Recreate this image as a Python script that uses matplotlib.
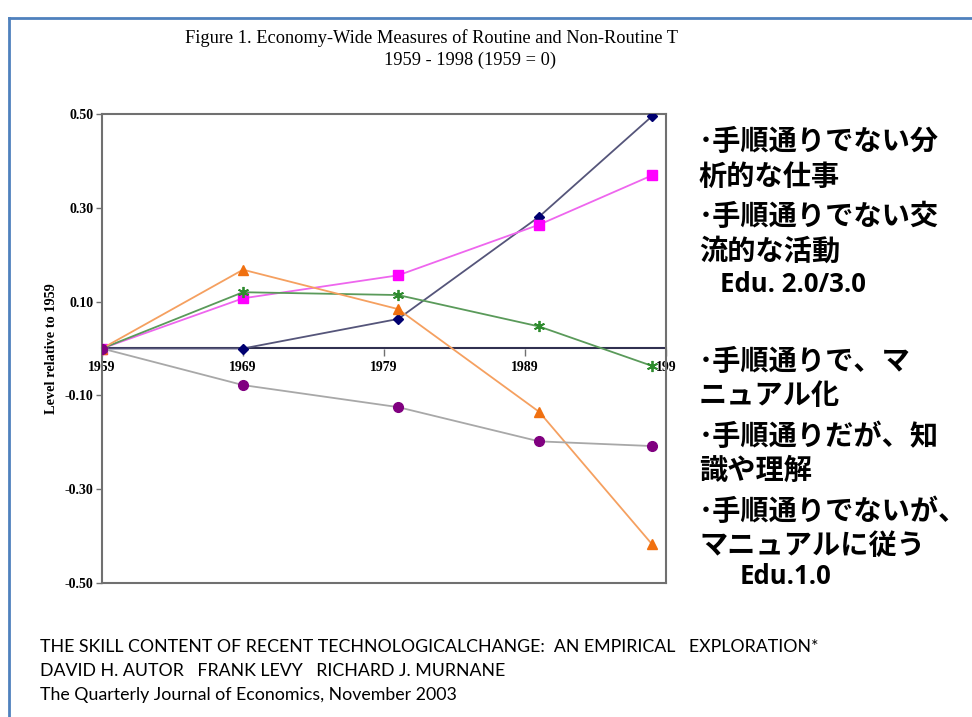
import matplotlib.pyplot as plt
from matplotlib.lines import Line2D

# data
years = [1959, 1969, 1980, 1990, 1998]
nonroutine_analytic = [0.0, 0.0, 0.063, 0.281, 0.495]
nonroutine_interactive = [0.0, 0.107, 0.156, 0.264, 0.369]
routine_cognitive = [0.0, 0.120, 0.114, 0.047, -0.037]
routine_manual = [0.0, 0.168, 0.084, -0.135, -0.417]
nonroutine_manual = [0.0, -0.078, -0.125, -0.198, -0.208]

xtick_vals = [1959, 1969, 1979, 1989, 1999]
xtick_labels = ['1959', '1969', '1979', '1989', '199']
ytick_vals = [0.50, 0.30, 0.10, -0.10, -0.30, -0.50]

upper_notes = ['･手順通りでない分', '析的な仕事', '･手順通りでない交', '流的な活動']
upper_y = [142, 177, 217, 252]
lower_notes = ['･手順通りで、マ', 'ニュアル化', '･手順通りだが、知', '識や理解',
               '･手順通りでないが、', 'マニュアルに従う']
lower_y = [362, 396, 437, 471, 512, 546]

source_lines = ['THE SKILL CONTENT OF RECENT TECHNOLOGICALCHANGE:  AN EMPIRICAL   EXPLORATION*',
                'DAVID H. AUTOR   FRANK LEVY   RICHARD J. MURNANE',
                'The Quarterly Journal of Economics, November 2003']

W, H = 972, 717
fig = plt.figure(figsize=(W / 100, H / 100), dpi=100)

def fx(px):
    return px / W

def fy(py):
    return 1 - py / H

serif = 'Liberation Serif'

ax = fig.add_axes([fx(102), fy(583), fx(666) - fx(102), fy(114) - fy(583)])
ax.plot(years, nonroutine_analytic, color='#55557a', lw=1.3, marker='D', ms=5,
        mfc='#000070', mec='#000070', zorder=3)
ax.plot(years, nonroutine_interactive, color='#ee66ee', lw=1.3, marker='s', ms=7,
        mfc='#ff00ff', mec='#ff00ff', zorder=3)
ax.plot(years, routine_cognitive, color='#5a9a5a', lw=1.3, marker=(6, 2, 0), ms=8,
        mec='#2e8b2e', mew=1.3, zorder=3)
ax.plot(years, routine_manual, color='#f5a060', lw=1.3, marker='^', ms=7,
        mfc='#f07010', mec='#f07010', zorder=3)
ax.plot(years, nonroutine_manual, color='#a8a8a8', lw=1.3, marker='o', ms=7,
        mfc='#800080', mec='#800080', zorder=4)

ax.set_xlim(1959, 1999)
ax.set_ylim(-0.5, 0.5)
for s in ax.spines.values():
    s.set_color('#707070')
    s.set_linewidth(1.5)
ax.set_xticks([])
ax.set_yticks(ytick_vals)
ax.set_yticklabels(['%.2f' % v for v in ytick_vals], fontfamily=serif,
                   fontweight='bold', fontsize=10)
ax.tick_params(axis='y', direction='out', length=4, width=1, color='#707070', pad=2)

# x axis drawn through zero
sec = ax.secondary_xaxis(0.5)
for s in sec.spines.values():
    s.set_color('#303050')
    s.set_linewidth(1.5)
sec.set_xticks(xtick_vals)
sec.set_xticklabels(xtick_labels, fontfamily=serif, fontweight='bold', fontsize=10)
sec.tick_params(axis='x', bottom=True, top=False, labelbottom=True, labeltop=False,
                direction='out', length=5, width=1, color='#707070', pad=4)

ax.set_ylabel('Level relative to 1959', fontfamily=serif, fontweight='bold',
              fontsize=10.3, labelpad=5)

fig.text(fx(431), fy(38), 'Figure 1. Economy-Wide Measures of Routine and Non-Routine T',
         ha='center', va='center', fontfamily=serif, fontsize=13.2)
fig.text(fx(470), fy(60), '1959 - 1998 (1959 = 0)',
         ha='center', va='center', fontfamily=serif, fontsize=13.2)

jp = ['Noto Sans CJK JP', 'DejaVu Sans']
for t, y in zip(upper_notes + lower_notes, upper_y + lower_y):
    fig.text(fx(699), fy(y), t, ha='left', va='center', fontfamily=jp,
             fontweight='bold', fontsize=20.3)
fig.text(fx(720), fy(285), 'Edu. 2.0/3.0', ha='left', va='center',
         fontfamily=['Open Sans', 'DejaVu Sans'], fontweight='bold', fontsize=18.5)
fig.text(fx(740), fy(577), 'Edu.1.0', ha='left', va='center',
         fontfamily=['Open Sans', 'DejaVu Sans'], fontweight='bold', fontsize=18.5)

for t, y in zip(source_lines, [647, 671, 695]):
    fig.text(fx(40), fy(y), t, ha='left', va='center', fontfamily='Lato', fontsize=12.8)

# blue slide frame
frame_col = '#4f81bd'
fig.add_artist(Line2D([fx(9), fx(9)], [fy(18), 0], color=frame_col, lw=2))
fig.add_artist(Line2D([fx(9), 1], [fy(18), fy(18)], color=frame_col, lw=2))

fig.savefig('out.png', dpi=100)
